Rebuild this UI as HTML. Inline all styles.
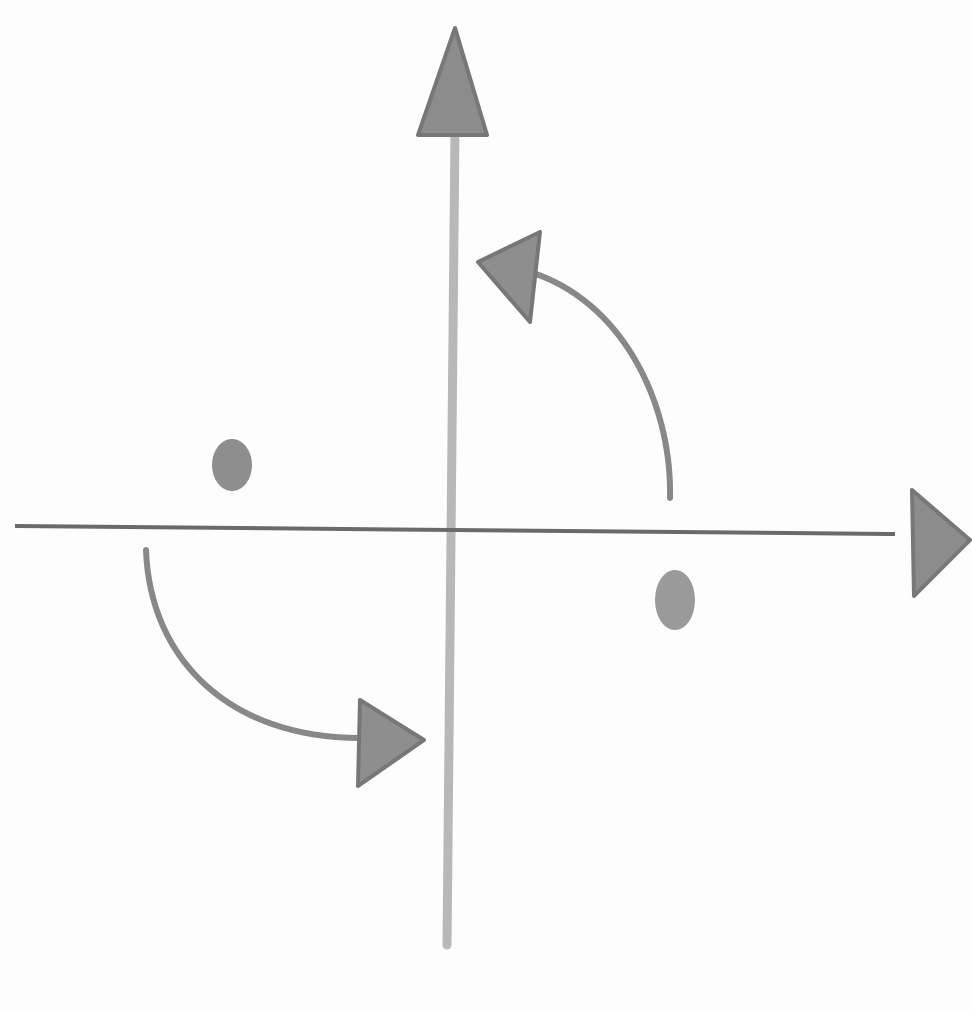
<!DOCTYPE html>
<html><head><meta charset="utf-8"><style>
html,body{margin:0;padding:0;background:#fff;width:972px;height:1010px;overflow:hidden}
svg{display:block}
</style></head><body>
<svg width="972" height="1010" viewBox="0 0 972 1010">
<rect width="972" height="1010" fill="#fdfdfd"/>
<line x1="455" y1="130" x2="447" y2="945" stroke="#b8b8b8" stroke-width="9" stroke-linecap="round"/>
<polygon points="455,28 418,135 487,135" fill="#8c8c8c" stroke="#777" stroke-width="4" stroke-linejoin="round"/>
<line x1="15" y1="526" x2="895" y2="534" stroke="#6a6a6a" stroke-width="4"/>
<polygon points="912,490 970,540 914,596" fill="#8c8c8c" stroke="#777" stroke-width="4" stroke-linejoin="round"/>
<ellipse cx="232" cy="465" rx="20" ry="26" fill="#8e8e8e"/>
<ellipse cx="675" cy="600" rx="20" ry="30" fill="#9a9a9a"/>
<path d="M670,498 C672,400 620,300 530,272" fill="none" stroke="#888" stroke-width="6" stroke-linecap="round"/>
<polygon points="478,262 540,232 530,322" fill="#8e8e8e" stroke="#777" stroke-width="4" stroke-linejoin="round"/>
<path d="M146,550 C150,660 230,738 360,738" fill="none" stroke="#888" stroke-width="6" stroke-linecap="round"/>
<polygon points="360,700 424,740 358,786" fill="#8e8e8e" stroke="#777" stroke-width="4" stroke-linejoin="round"/>
</svg>
</body></html>
